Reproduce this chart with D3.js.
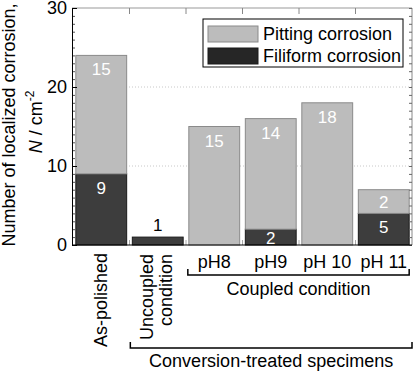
<!DOCTYPE html>
<html>
<head>
<meta charset="utf-8">
<script src="https://cdn.jsdelivr.net/npm/d3@7"></script>
<style>
body { margin: 0; background: #fff; }
text { font-family: "Liberation Sans", Arial, sans-serif; }
</style>
</head>
<body>
<script>
// values (bar heights as drawn, labels as printed)
var categories = ["As-polished", "Uncoupled condition", "pH8", "pH9", "pH 10", "pH 11"];
var filiform = [9, 1, 0, 2, 0, 4];
var pitting = [15, 0, 15, 14, 18, 3];
var filiformLabels = ["9", "1", "", "2", "", "5"];
var pittingLabels = ["15", "", "15", "14", "18", "2"];
var yTicks = [0, 10, 20, 30];
var seriesNames = ["Filiform corrosion", "Pitting corrosion"];

var W = 416, H = 371;
var plotL = 72, plotR = 412, plotT = 8, plotB = 245;

var svg = d3.select("body").append("svg")
	.attr("width", W)
	.attr("height", H);

var x = d3.scaleBand()
	.domain(categories)
	.range([plotL + 1, plotR])
	.paddingInner(0.1)
	.paddingOuter(0.05);
var y = d3.scaleLinear().domain([0, 30]).range([plotB, plotT]);

var fill = { filiform: "#3d3d3d", pitting: "#bcbcbc" };
var stroke = { filiform: "#1a1a1a", pitting: "#8a8a8a" };
var labels = { filiform: filiformLabels, pitting: pittingLabels };

// grid
svg.append("g")
	.selectAll("line")
	.data([10, 20])
	.join("line")
	.attr("x1", plotL).attr("x2", plotR)
	.attr("y1", function (d) { return y(d); })
	.attr("y2", function (d) { return y(d); })
	.attr("stroke", "#c8c8c8")
	.attr("stroke-dasharray", "1,2");

// stacked bars
var table = categories.map(function (c, i) {
	return { cat: c, idx: i, filiform: filiform[i], pitting: pitting[i] };
});
var stack = d3.stack().keys(["filiform", "pitting"])(table);

var layers = svg.append("g")
	.selectAll("g")
	.data(stack)
	.join("g");

layers.selectAll("rect")
	.data(function (s) { return s.map(function (d) { return { key: s.key, d: d }; }); })
	.join("rect")
	.filter(function (r) { return r.d[1] - r.d[0] > 0; })
	.attr("x", function (r) { return x(r.d.data.cat); })
	.attr("width", x.bandwidth())
	.attr("y", function (r) { return y(r.d[1]); })
	.attr("height", function (r) { return y(r.d[0]) - y(r.d[1]); })
	.attr("fill", function (r) { return fill[r.key]; })
	.attr("stroke", function (r) { return stroke[r.key]; })
	.attr("stroke-width", 1);

// value labels
layers.selectAll("text")
	.data(function (s) { return s.map(function (d) { return { key: s.key, d: d }; }); })
	.join("text")
	.filter(function (r) { return r.d[1] - r.d[0] > 0; })
	.attr("x", function (r) { return x(r.d.data.cat) + x.bandwidth() / 2; })
	.attr("y", function (r) {
		var h = y(r.d[0]) - y(r.d[1]);
		if (h < 12) return y(r.d[1]) - 6;
		return y(r.d[1]) + Math.min(20, h / 2 + 6.5);
	})
	.attr("text-anchor", "middle")
	.attr("font-size", 17)
	.attr("fill", function (r) { return (y(r.d[0]) - y(r.d[1])) < 12 ? "#000" : "#fff"; })
	.text(function (r) { return labels[r.key][r.d.data.idx]; });

// frame: top and right in gray
svg.append("line").attr("x1", plotL).attr("x2", plotR).attr("y1", plotT).attr("y2", plotT)
	.attr("stroke", "#999");
svg.append("line").attr("x1", plotR).attr("x2", plotR).attr("y1", plotT).attr("y2", plotB)
	.attr("stroke", "#888");

// band boundary ticks, top and bottom
var bounds = categories.slice(1).map(function (c) { return x(c) - x.step() * x.paddingInner() / 2; });
svg.append("g").selectAll("line").data(bounds).join("line")
	.attr("x1", function (d) { return d; }).attr("x2", function (d) { return d; })
	.attr("y1", plotT).attr("y2", plotT + 6)
	.attr("stroke", "#888");
svg.append("g").selectAll("line").data(bounds).join("line")
	.attr("x1", function (d) { return d; }).attr("x2", function (d) { return d; })
	.attr("y1", plotB).attr("y2", plotB - 5)
	.attr("stroke", "#aaa");

// right axis minor ticks
svg.append("g")
	.attr("transform", "translate(" + plotR + ",0)")
	.call(d3.axisRight(y).ticks(30).tickSize(-3).tickFormat(""))
	.call(function (g) { g.select(".domain").remove(); })
	.selectAll("line").attr("stroke", "#666");

// left axis
svg.append("g")
	.attr("transform", "translate(" + plotL + ",0)")
	.call(d3.axisLeft(y).ticks(30).tickSize(-3).tickFormat(""))
	.call(function (g) { g.select(".domain").remove(); })
	.selectAll("line").attr("stroke", "#555");

var ya = svg.append("g")
	.attr("transform", "translate(" + plotL + ",0)")
	.call(d3.axisLeft(y).tickValues(yTicks).tickSize(-5).tickPadding(5));
ya.select(".domain").attr("stroke", "#000");
ya.selectAll("text").attr("font-size", 18).attr("font-family", "Liberation Sans, Arial, sans-serif").attr("fill", "#000");

// bottom line
svg.append("line").attr("x1", plotL).attr("x2", plotR).attr("y1", plotB).attr("y2", plotB)
	.attr("stroke", "#000");

// y title
svg.append("text")
	.attr("transform", "translate(15,125) rotate(-90)")
	.attr("text-anchor", "middle")
	.attr("font-size", 18)
	.text("Number of localized corrosion,");
var t2 = svg.append("text")
	.attr("transform", "translate(42,122) rotate(-90)")
	.attr("text-anchor", "middle")
	.attr("font-size", 18);
t2.append("tspan").attr("font-style", "italic").text("N");
t2.append("tspan").text(" / cm");
t2.append("tspan").attr("font-size", 12).attr("dy", -8).text("-2");

// category labels
var cx = function (c) { return x(c) + x.bandwidth() / 2; };
svg.append("text")
	.attr("transform", "translate(" + (cx(categories[0]) + 6) + ",253) rotate(-90)")
	.attr("text-anchor", "end")
	.attr("font-size", 18)
	.text(categories[0]);
var unc = categories[1].split(" ");
svg.append("g").selectAll("text").data(unc).join("text")
	.attr("transform", function (d, i) { return "translate(" + (cx(categories[1]) - 5 + i * 19) + ",254) rotate(-90)"; })
	.attr("text-anchor", "end")
	.attr("font-size", 18)
	.text(function (d) { return d; });
svg.append("g").selectAll("text").data(categories.slice(2)).join("text")
	.attr("x", function (d) { return cx(d); })
	.attr("y", 268)
	.attr("text-anchor", "middle")
	.attr("font-size", 18)
	.text(function (d) { return d; });

// group brackets
function bracket(x1, x2, yl, label, ly) {
	svg.append("path")
		.attr("d", "M" + x1 + "," + (yl - 6) + "V" + yl + "H" + x2 + "V" + (yl - 6))
		.attr("fill", "none")
		.attr("stroke", "#000")
		.attr("stroke-width", 1.5);
	svg.append("text")
		.attr("x", (x1 + x2) / 2)
		.attr("y", ly)
		.attr("text-anchor", "middle")
		.attr("font-size", 18)
		.text(label);
}
bracket(x("pH8") - 1, x("pH 11") + x.bandwidth(), 275, "Coupled condition", 295);
bracket(x(categories[1]) - 2, plotR, 348, "Conversion-treated specimens", 367);

// legend
var lg = svg.append("g").attr("transform", "translate(203,19)");
lg.append("rect").attr("width", 200).attr("height", 48)
	.attr("fill", "#fff").attr("stroke", "#000");
var items = [
	{ name: seriesNames[1], key: "pitting" },
	{ name: seriesNames[0], key: "filiform" }
];
var li = lg.selectAll("g").data(items).join("g")
	.attr("transform", function (d, i) { return "translate(5," + (7 + i * 22) + ")"; });
li.append("rect").attr("width", 50).attr("height", 16)
	.attr("fill", function (d) { return d.key === "filiform" ? "#262626" : fill[d.key]; })
	.attr("stroke", function (d) { return stroke[d.key]; });
li.append("text").attr("x", 55).attr("y", 14).attr("font-size", 18)
	.text(function (d) { return d.name; });
</script>
</body>
</html>
